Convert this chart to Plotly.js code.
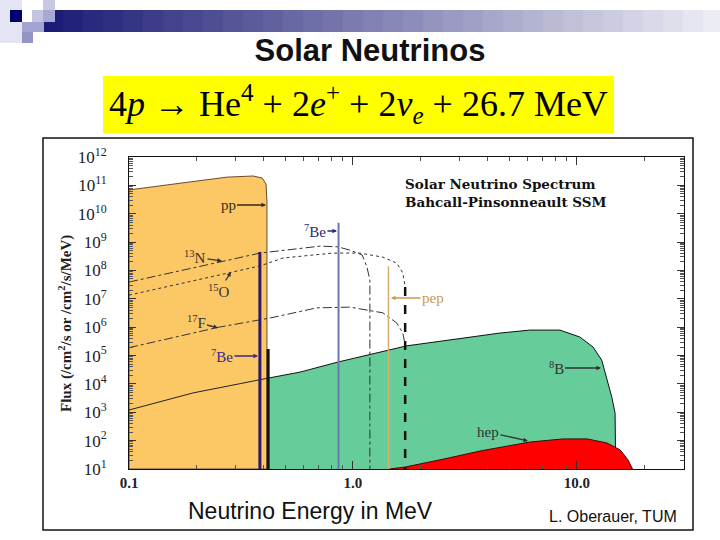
<!DOCTYPE html>
<html>
<head>
<meta charset="utf-8">
<script src="https://cdn.plot.ly/plotly-3.0.1.min.js"></script>
<style>
  html, body { margin: 0; padding: 0; background: #fff; }
  #graph { width: 720px; height: 540px; }
</style>
</head>
<body>
<div id="graph"></div>
<script>
// Solar neutrino spectrum (Bahcall-Pinsonneault SSM)

// pp continuum, outline of the orange area (MeV, flux)
var ppE    = [0.1, 0.1, 0.187, 0.274, 0.358, 0.393, 0.409, 0.413, 0.413, 0.1];
var ppFlux = [10, 6.9e10, 1.32e11, 1.95e11, 2.14e11, 1.82e11, 1.12e11, 2.6e10, 10, 10];

// 8B continuum, green area
var b8E    = [0.418, 0.418, 0.58, 0.857, 1.74, 2.71, 4.53, 6.16, 8.39, 10.3, 11.8, 12.9, 13.6, 14.3, 14.8, 14.9];
var b8Flux = [10, 1.6e4, 2.6e4, 5.9e4, 2.2e5, 3.5e5, 6.2e5, 7.9e5, 7.9e5, 4.5e5, 2.0e5, 6.9e4, 1.4e4, 3.5e3, 9.3e2, 10];
// 8B below the pp end point (plain line)
var b8LowE    = [0.1, 0.193, 0.418];
var b8LowFlux = [1.2e3, 4.8e3, 1.6e4];

// hep continuum, red area
var hepE    = [1.46, 1.71, 2.71, 3.69, 6.16, 8.66, 11.1, 13.6, 15.6, 16.9, 17.6, 17.7];
var hepFlux = [10, 11.7, 25, 43, 89, 115, 115, 83, 47, 21, 11, 10];

// CNO continua
var n13E    = [0.1, 0.385, 0.713, 0.857, 0.97, 1.10, 1.155, 1.19, 1.19];
var n13Flux = [3.9e7, 4.1e8, 7.2e8, 6.8e8, 5.2e8, 3.5e8, 1.3e8, 4.6e7, 10];
var o15E    = [0.1, 0.385, 0.487, 0.814, 1.07, 1.36, 1.57, 1.67, 1.71];
var o15Flux = [1.35e7, 1.45e8, 2.75e8, 4.1e8, 4.1e8, 2.95e8, 1.8e8, 8.1e7, 2.6e7];
var o15EndE    = [1.71, 1.71];
var o15EndFlux = [2.6e7, 10];
var f17E    = [0.1, 0.252, 0.426, 0.69, 0.97, 1.36, 1.57, 1.67, 1.71];
var f17Flux = [1.9e5, 1.0e6, 2.1e6, 4.8e6, 5.1e6, 3.2e6, 1.4e6, 6.2e5, 2.3e5];

// line sources
var be7E    = [0.384, 0.862];
var be7Flux = [4.5e8, 4.8e9];
var pepE    = 1.44;
var pepFlux = 1.4e8;
var ppEndE    = 0.418;
var ppEndFlux = 1.7e5;

// axis ticks
var yTickVals = [1e1, 1e2, 1e3, 1e4, 1e5, 1e6, 1e7, 1e8, 1e9, 1e10, 1e11, 1e12];
var yTickText = ['10<sup>1</sup>', '10<sup>2</sup>', '10<sup>3</sup>', '10<sup>4</sup>', '10<sup>5</sup>', '10<sup>6</sup>',
                 '10<sup>7</sup>', '10<sup>8</sup>', '10<sup>9</sup>', '10<sup>10</sup>', '10<sup>11</sup>', '10<sup>12</sup>'];

// pixel -> paper helpers (plot area is 129..684 x 157..469)
function PX(px) { return (px - 129) / 555; }
function PY(py) { return (469 - py) / 312; }

var serif = 'Liberation Serif, Times New Roman, serif';
var wideSerif = 'DejaVu Serif, serif';
var sans = 'Liberation Sans, Arial, sans-serif';

function vline(x, top, color, width, dash) {
  return {
    x: [x, x], y: [10, top], mode: 'lines', type: 'scatter',
    line: { color: color, width: width, dash: dash || 'solid' }, hoverinfo: 'skip'
  };
}

var traces = [
  { x: ppE, y: ppFlux, type: 'scatter', mode: 'lines', fill: 'toself',
    fillcolor: '#fcc866', line: { color: '#6b4a2a', width: 1 } },
  { x: b8E, y: b8Flux, type: 'scatter', mode: 'lines', fill: 'toself',
    fillcolor: '#66cc9a', line: { color: '#111', width: 1 } },
  { x: hepE, y: hepFlux, type: 'scatter', mode: 'lines', fill: 'toself',
    fillcolor: '#ff0000', line: { color: '#3a0a0a', width: 1 } },
  { x: b8LowE, y: b8LowFlux, type: 'scatter', mode: 'lines', line: { color: '#222', width: 1 } },
  { x: n13E, y: n13Flux, type: 'scatter', mode: 'lines', line: { color: '#333', width: 1, dash: 'dashdot' } },
  { x: o15E, y: o15Flux, type: 'scatter', mode: 'lines', line: { color: '#333', width: 1, dash: 'dot' } },
  { x: o15EndE, y: o15EndFlux, type: 'scatter', mode: 'lines', line: { color: '#111', width: 2.5, dash: 'dash' } },
  { x: f17E, y: f17Flux, type: 'scatter', mode: 'lines', line: { color: '#333', width: 1, dash: 'dashdot' } },
  vline(ppEndE, ppEndFlux, '#111', 3),
  vline(be7E[0], be7Flux[0], '#2e1a6b', 3),
  vline(be7E[1], be7Flux[1], '#6c78b2', 2),
  vline(pepE, pepFlux, '#d8ae6c', 1.5)
];

// header bar with colour fade
var shapes = [];
var steps = 34;
for (var i = 0; i < steps; i++) {
  var t = i / (steps - 1);
  var r = Math.round(28 + t * (236 - 28));
  var g = Math.round(28 + t * (236 - 28));
  var b = Math.round(118 + t * (244 - 118));
  shapes.push({ type: 'rect', xref: 'paper', yref: 'paper',
    x0: PX(43 + i * 20), x1: PX(43 + (i + 1) * 20 + 1), y0: PY(10), y1: PY(32),
    fillcolor: 'rgb(' + r + ',' + g + ',' + b + ')', line: { width: 0 } });
}
var squares = [
  [0, 0, 22, 43, '#e4e4f2'],
  [43, 0, 55, 10, '#c8c8e4'],
  [32, 10, 43, 22, '#c4c4e2'],
  [43, 10, 55, 22, '#a8a8d6'],
  [10, 10, 22, 22, '#00006e'],
  [22, 22, 44, 32, '#a4a4d2'],
  [22, 32, 33, 43, '#9494c6']
];
squares.forEach(function (s) {
  shapes.push({ type: 'rect', xref: 'paper', yref: 'paper',
    x0: PX(s[0]), x1: PX(s[2]), y0: PY(s[1]), y1: PY(s[3]),
    fillcolor: s[4], line: { width: 0 } });
});
// yellow formula box and slide frame
shapes.push({ type: 'rect', xref: 'paper', yref: 'paper',
  x0: PX(103), x1: PX(614), y0: PY(76), y1: PY(133), fillcolor: '#ffff00', line: { width: 0 } });
shapes.push({ type: 'rect', xref: 'paper', yref: 'paper',
  x0: PX(43), x1: PX(693), y0: PY(138), y1: PY(530), line: { color: '#111', width: 1.5 } });

function lab(text, px, py, ax, ay, color) {
  return { xref: 'paper', yref: 'paper', x: PX(px), y: PY(py), text: text,
    showarrow: true, ax: ax, ay: ay, arrowhead: 2, arrowsize: 0.7, arrowwidth: 1.3,
    arrowcolor: color || '#333', font: { family: serif, size: 15, color: color || '#333' } };
}
function txt(text, px, py, font, extra) {
  var a = { xref: 'paper', yref: 'paper', x: PX(px), y: PY(py), text: text, showarrow: false,
    xanchor: 'center', yanchor: 'middle', font: font };
  for (var k in extra) a[k] = extra[k];
  return a;
}

var annotations = [
  lab('pp', 266, 205, -38, 0, '#3a2a1a'),
  lab('<sup>13</sup>N', 222, 261, -27, -4),
  lab('<sup>15</sup>O', 231, 272, -12, 19),
  lab('<sup>17</sup>F', 218, 328, -22, -6),
  lab('<sup>7</sup>Be', 258, 356, -36, 0, '#3b2a8c'),
  lab('<sup>7</sup>Be', 337, 231, -22, 0, '#2a2a7a'),
  lab('pep', 391, 298, 42, 0, '#c89a58'),
  lab('<sup>8</sup>B', 601, 368, -45, 0),
  lab('hep', 528, 441, -40, -9),
  txt('Solar Neutrino Spectrum<br>Bahcall-Pinsonneault SSM', 403, 193,
      { family: wideSerif, size: 13.5, color: '#111', weight: 'bold' }, { xanchor: 'left', align: 'left' }),
  txt('Flux (/cm<sup>2</sup>/s or /cm<sup>2</sup>/s/MeV)', 65, 324,
      { family: serif, size: 15, color: '#222', weight: 'bold' }, { textangle: -90 }),
  txt('Neutrino Energy in MeV', 310, 511, { family: sans, size: 23, color: '#111' }),
  txt('L. Oberauer, TUM', 613, 516, { family: sans, size: 16, color: '#111' }),
  txt('4<i>p</i> → He<sup>4</sup> + 2<i>e</i><sup>+</sup> + 2<i>ν</i><sub><i>e</i></sub> + 26.7 MeV', 358, 104,
      { family: serif, size: 36, color: '#000' })
];

var layout = {
  width: 720, height: 540,
  margin: { l: 129, r: 36, t: 157, b: 71 },
  paper_bgcolor: '#fff', plot_bgcolor: '#fff',
  showlegend: false,
  title: { text: 'Solar Neutrinos', x: 370 / 720, xanchor: 'center', y: 1 - 50 / 540, yanchor: 'middle',
           font: { family: sans, size: 31, color: '#111', weight: 'bold' } },
  xaxis: {
    type: 'log', range: [-1, 1.478], dtick: 1, tickformat: '.1f',
    showline: true, mirror: 'allticks', linecolor: '#111', linewidth: 1,
    ticks: 'inside', ticklen: 8, tickcolor: '#333', showgrid: false, zeroline: false,
    ticklabelstandoff: 0,
    tickfont: { family: serif, size: 15, color: '#222', weight: 'bold' },
    minor: { ticks: 'inside', ticklen: 4, tickcolor: '#555', dtick: 'D1', showgrid: false }
  },
  yaxis: {
    type: 'log', range: [1, 12], tickmode: 'array', tickvals: yTickVals, ticktext: yTickText,
    showline: true, mirror: 'allticks', linecolor: '#111', linewidth: 1,
    ticks: 'inside', ticklen: 7, tickcolor: '#333', showgrid: false, zeroline: false,
    ticklabelstandoff: 18,
    tickfont: { family: serif, size: 17, color: '#222' },
    minor: { ticks: 'inside', ticklen: 4, tickcolor: '#555', dtick: 'D1', showgrid: false }
  },
  shapes: shapes,
  annotations: annotations
};

Plotly.newPlot('graph', traces, layout, { displayModeBar: false, staticPlot: true });
</script>
</body>
</html>
